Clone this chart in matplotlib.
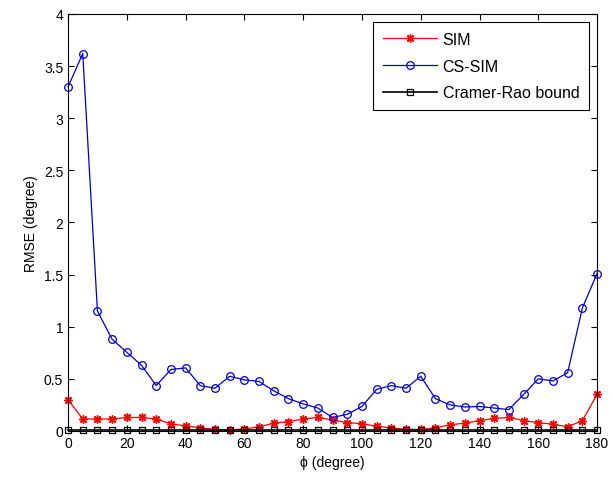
import matplotlib
matplotlib.use("Agg")
import matplotlib.pyplot as plt
from matplotlib.ticker import FuncFormatter, MultipleLocator

plt.rcParams['font.family'] = ['Liberation Sans', 'DejaVu Sans']

phi = list(range(0, 181, 5))
sim = [0.30, 0.115, 0.115, 0.115, 0.13, 0.13, 0.115, 0.067, 0.05, 0.03, 0.015, 0.01,
       0.02, 0.04, 0.075, 0.09, 0.115, 0.13, 0.105, 0.08, 0.07, 0.045, 0.03, 0.015,
       0.015, 0.03, 0.06, 0.075, 0.10, 0.12, 0.13, 0.10, 0.08, 0.065, 0.04, 0.10, 0.35]
cs_sim = [3.30, 3.62, 1.15, 0.88, 0.755, 0.63, 0.435, 0.59, 0.605, 0.435, 0.41, 0.525,
          0.49, 0.475, 0.385, 0.31, 0.26, 0.22, 0.13, 0.16, 0.235, 0.40, 0.435, 0.41,
          0.525, 0.31, 0.25, 0.23, 0.235, 0.22, 0.205, 0.35, 0.50, 0.48, 0.56, 1.18, 1.51]
crb = [0.005] * len(phi)

fig = plt.figure(figsize=(6.13, 4.89), dpi=100)
ax = fig.add_axes([0.111, 0.1166, 0.863, 0.8528])

ax.plot(phi, sim, color='red', marker=(8, 2, 0), markersize=6, markeredgewidth=1.0,
        linewidth=0.9, label='SIM', clip_on=False)
ax.plot(phi, cs_sim, color='#0000cc', marker='o', markersize=5.5, markerfacecolor='none',
        markeredgewidth=0.9, linewidth=0.9, label='CS-SIM', clip_on=False)
ax.plot(phi, crb, color='black', marker='s', markersize=5, markerfacecolor='none',
        markeredgewidth=0.9, linewidth=1.2, label='Cramer-Rao bound', clip_on=False)

ax.set_xlim(0, 180)
ax.set_ylim(0, 4)
ax.xaxis.set_major_locator(MultipleLocator(20))
ax.yaxis.set_major_locator(MultipleLocator(0.5))
ax.yaxis.set_major_formatter(FuncFormatter(lambda v, p: f"{v:g}"))
ax.tick_params(direction='in', top=True, right=True, labelsize=10, length=4)
for s in ax.spines.values():
    s.set_linewidth(0.8)

ax.set_xlabel('ϕ (degree)', fontsize=10)
ax.set_ylabel('RMSE (degree)', fontsize=10)

leg = ax.legend(loc='upper right', fontsize=11.5, fancybox=False, edgecolor='black',
                framealpha=1, borderaxespad=0.5, handlelength=3.4, handletextpad=0.35,
                labelspacing=0.75, borderpad=0.6)
leg.get_frame().set_linewidth(0.8)

fig.savefig('out.png', dpi=100)
